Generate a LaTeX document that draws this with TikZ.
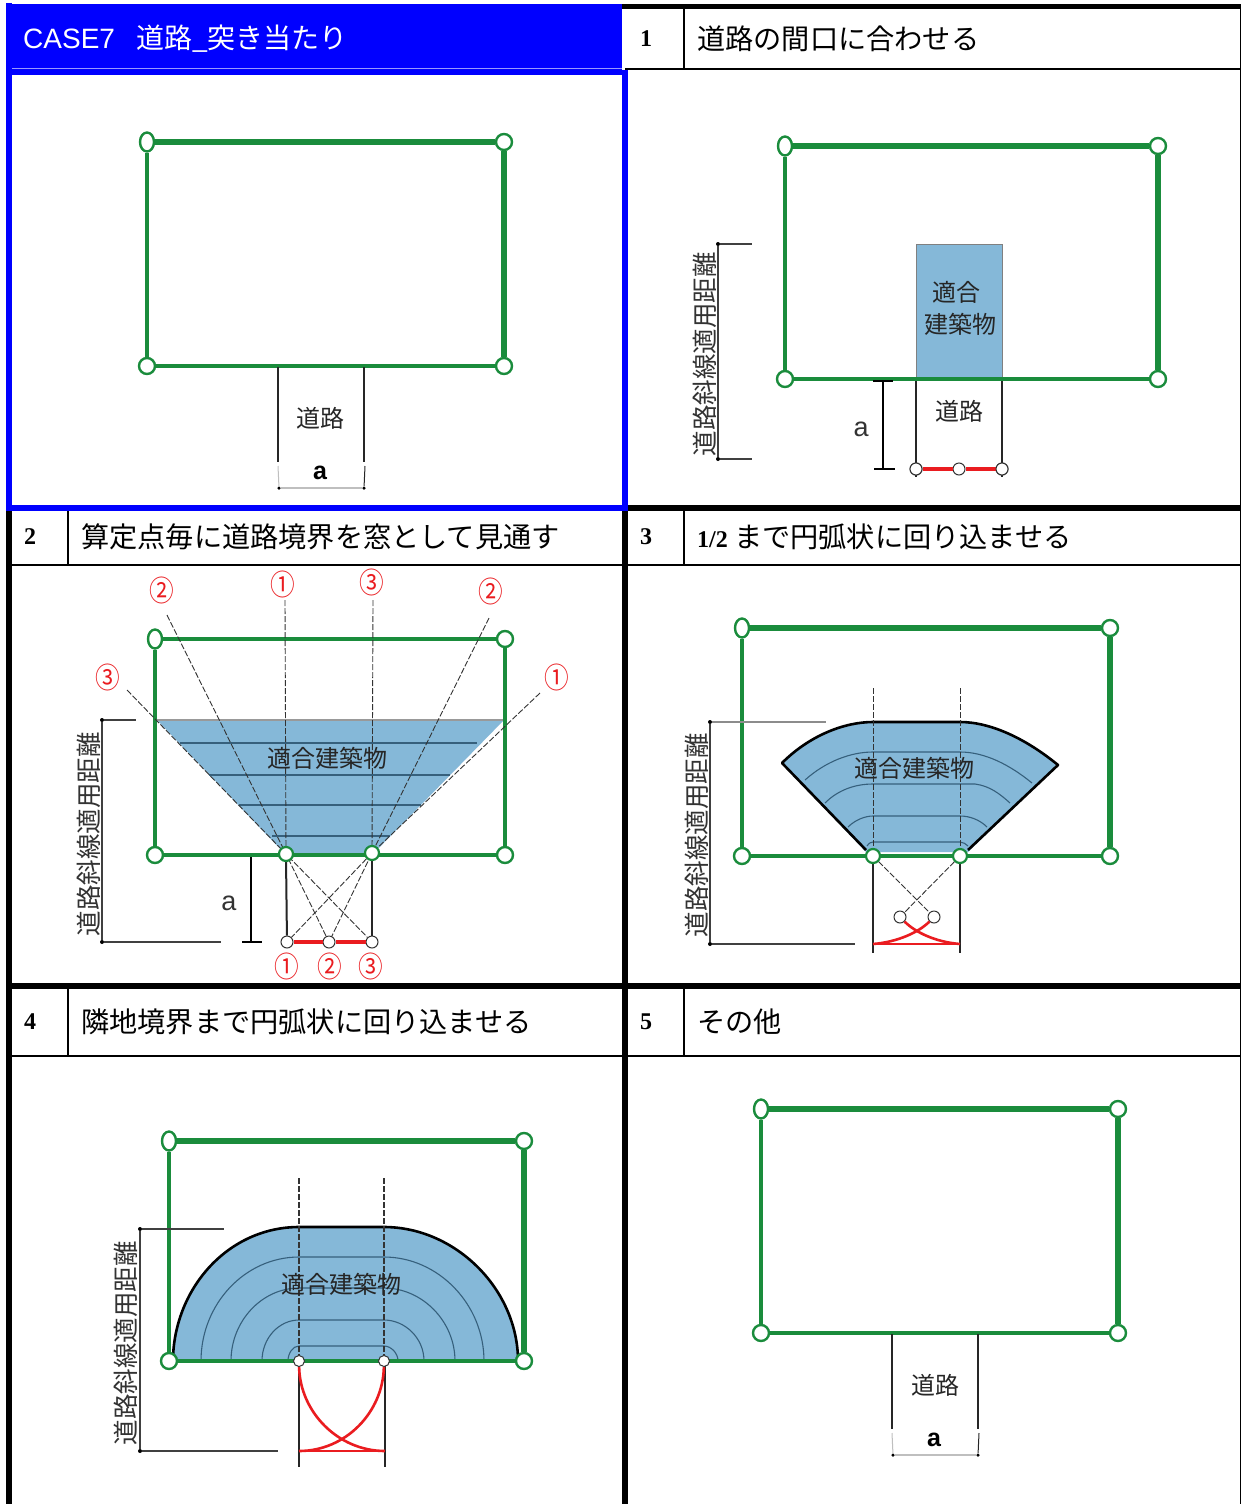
\documentclass[tikz,border=0pt]{standalone}
\usepackage{fontspec}
\setmainfont{Noto Sans CJK JP}
\newfontfamily\latinsans{Liberation Sans}
\newfontfamily\latinserif{Liberation Serif}
\usetikzlibrary{shapes.geometric}
\definecolor{sitegreen}{HTML}{1A8C3C}
\definecolor{bldgblue}{HTML}{85B8D8}
\definecolor{ringcol}{HTML}{36607C}
\definecolor{redline}{HTML}{EA1C20}
\definecolor{headblue}{HTML}{0000FF}
\tikzset{
  corner/.style={circle,draw=sitegreen,fill=white,line width=2.4pt,inner sep=0pt,minimum size=16pt},
  cornerslim/.style={ellipse,draw=sitegreen,fill=white,line width=2.4pt,inner sep=0pt,minimum width=14pt,minimum height=19pt},
  sitept/.style={circle,draw=sitegreen,fill=white,line width=2.2pt,inner sep=0pt,minimum size=14pt},
  smallpt/.style={circle,draw=black!80,fill=white,line width=1pt,inner sep=0pt,minimum size=12pt},
  road/.style={draw=black!85,line width=1.6pt},
  sight/.style={draw=black!80,line width=.9pt,dash pattern=on 6pt off 2pt},
  ring/.style={draw=ringcol,line width=1.1pt},
  bldg/.style={fill=bldgblue},
  bldgedge/.style={draw=black,line width=2.6pt,line join=round},
  dimline/.style={draw=black!75,line width=1.1pt},
  dimdot/.style={circle,fill=black,inner sep=0pt,minimum size=4pt},
  redstroke/.style={draw=redline,line width=2.6pt},
  label/.style={inner sep=0pt,font=\fontsize{24}{26}\selectfont,text=black!85},
  vlabel/.style={inner sep=0pt,rotate=90,font=\fontsize{25.5}{27}\selectfont,text=black!80},
  head/.style={inner sep=0pt,anchor=west,font=\fontsize{28.2}{30}\selectfont},
  num/.style={inner sep=0pt,anchor=west,font=\fontsize{24}{26}\latinserif\bfseries},
  redmark/.style={inner sep=0pt,text=redline,xscale=.85,font=\fontsize{29}{30}\selectfont},
  grid/.style={draw=black,line width=2pt},
  gridb/.style={draw=black,line width=5.4pt},
  sletter/.style={inner sep=0pt,font=\fontsize{27}{28}\latinsans,text=black!80}
}
% site frame: name, x1, y1, x2, y2, width of top line
\newcommand{\siteframe}[6]{%
  \node[cornerslim] (#1tl) at (#2,#3) {};
  \node[corner] (#1tr) at (#4,#3) {};
  \node[corner] (#1bl) at (#2,#5) {};
  \node[corner] (#1br) at (#4,#5) {};
  \draw[sitegreen,line width=#6pt] (#1tl) -- (#1tr);
  \draw[sitegreen,line width=.8*#6pt] (#1tl) -- (#1bl);
  \draw[sitegreen,line width=#6pt] (#1tr) -- (#1br);
  \draw[sitegreen,line width=.9*#6pt] (#1bl) -- (#1br);
}
\begin{document}
\begin{tikzpicture}[x=1pt,y=-1pt]
\useasboundingbox (0,0) rectangle (1241,1504);
\fill[white] (0,0) rectangle (1241,1504);

% ---------- table ----------
\fill[headblue] (11,4) rectangle (622,75);
\draw[white!60!headblue,line width=.8pt] (11,68.5) -- (622,68.5);
\draw[black] (622,6.8) -- (622,6.8);
\draw[gridb] (622,6.8) -- (1241,6.8);
\draw[grid] (625,68.8) -- (1241,68.8);
\draw[grid] (684,9) -- (684,68);
\draw[gridb] (622,508) -- (1241,508);
\draw[grid] (11,565) -- (1241,565);
\draw[grid] (68,510) -- (68,565);
\draw[grid] (684,510) -- (684,565);
\draw[gridb] (6,985.8) -- (1241,985.8);
\draw[grid] (11,1056) -- (1241,1056);
\draw[grid] (68,988) -- (68,1056);
\draw[grid] (684,988) -- (684,1056);
\draw[gridb] (9,505) -- (9,1504);
\draw[gridb] (625,505) -- (625,1504);
\draw[black,line width=1.4pt] (1240.3,6) -- (1240.3,1504);
\draw[headblue,line width=5.4pt] (9,3) -- (9,510.7);
\draw[headblue,line width=5.4pt] (625,70) -- (625,505);
\draw[headblue,line width=5.4pt] (6.3,508) -- (627.7,508);

% ---------- headings ----------
\node[head,text=white,font=\fontsize{28}{30}\selectfont] (h0) at (23,39) {{\latinsans CASE7}\hspace{21pt}道路\_突き当たり};
\node[num] (n1) at (640,39) {1）};
\node[head] (h1) at (697,39) {道路の間口に合わせる};
\node[num] (n2) at (24,537) {2）};
\node[head] (h2) at (81,537) {算定点毎に道路境界を窓として見通す};
\node[num] (n3) at (640,537) {3）};
\node[head] (h3) at (697,537) {{\fontsize{24}{26}\latinserif\bfseries 1/2} まで円弧状に回り込ませる};
\node[num] (n4) at (24,1022) {4）};
\node[head] (h4) at (81,1022) {隣地境界まで円弧状に回り込ませる};
\node[num] (n5) at (640,1022) {5）};
\node[head] (h5) at (697,1022) {その他};

% ---------- panel 0 ----------
\siteframe{a}{147}{142}{504}{366}{5.5}
\coordinate (a1) at (278,367); \coordinate (a2) at (278,462);
\coordinate (a3) at (364,367); \coordinate (a4) at (364,462);
\draw[road,line width=1.2pt] (a1) -- (a2);
\draw[road,line width=1.2pt] (a3) -- (a4);
\node[label] (a5) at (320,418) {道路};
\node[inner sep=0pt,font=\fontsize{25}{26}\latinsans\bfseries] (a6) at (320,473) {a};
\node[dimdot,minimum size=3.5pt] (a7) at (279,488) {};
\node[dimdot,minimum size=3.5pt] (a8) at (364,488) {};
\coordinate (a9) at (278,466); \coordinate (a10) at (365,466);
\draw[black!25,line width=1.2pt] (a7) -- (a8);
\draw[black!25,line width=1pt] (a7) -- (a9);
\draw[black!85,line width=1pt] (a8) -- (a10);

% ---------- panel 1 ----------
\draw[bldg,draw=black!50,line width=1pt] (916,244) rectangle (1002,379);
\siteframe{b}{785}{146}{1158}{379}{5.5}
\coordinate (b1) at (916,381); \coordinate (b2) at (1002,381);
\node[smallpt] (b3) at (916,469) {};
\node[smallpt] (b4) at (959,469) {};
\node[smallpt] (b5) at (1002,469) {};
\coordinate (b3a) at (916,477); \coordinate (b5a) at (1002,477);
\draw[road] (b1) -- (b3a);
\draw[road] (b2) -- (b5a);
\draw[redstroke,line width=4.6pt] (b3) -- (b4);
\draw[redstroke,line width=4.6pt] (b4) -- (b5);
\node[smallpt] at (916,469) {};\node[smallpt] at (1002,469) {};
\node[label] (b6) at (956,292) {適合};
\node[label] (b7) at (960,324) {建築物};
\node[label] (b8) at (959,411) {道路};
\node[sletter] (b9) at (861,429) {a};
\coordinate (b10) at (883,381); \coordinate (b11) at (883,469);
\draw[black,line width=2pt] (b10) -- (b11);
\draw[black,line width=2pt] (873,381) -- (893,381);
\draw[black,line width=2pt] (874,469) -- (895,469);
\node[dimdot] (b12) at (718,244) {};
\node[dimdot] (b13) at (718,459) {};
\coordinate (b14) at (752,244); \coordinate (b15) at (752,459);
\draw[dimline] (b12) -- (b13);
\draw[dimline] (b12) -- (b14);
\draw[dimline] (b13) -- (b15);
\node[vlabel] (b16) at (705,354) {道路斜線適用距離};

% ---------- panel 2 ----------
\fill[bldg] (157,720) -- (504,720) -- (372,855) -- (286,855) -- cycle;
\draw[black!40,line width=1.2pt] (157,720) -- (504,720);
\draw[ring] (180,743) -- (477,743);
\draw[ring] (209,775) -- (450,775);
\draw[ring] (239,805) -- (421,805);
\draw[ring] (272,836) -- (390,836);
\siteframe{c}{155}{639}{505}{855}{4.8}
\coordinate (c1) at (127,690); \coordinate (c2) at (540,693);
\coordinate (c3) at (167,615); \coordinate (c4) at (489,618);
\coordinate (c5) at (285,600); \coordinate (c6) at (373,600);
\node[smallpt] (cp1) at (287,942) {};
\node[smallpt] (cp2) at (329,942) {};
\node[smallpt] (cp3) at (372,942) {};
\draw[sight] (c1) -- (286,854) -- (cp3);
\draw[sight] (c2) -- (372,853) -- (cp1);
\draw[sight] (c3) -- (286,854) -- (cp2);
\draw[sight] (c4) -- (372,853) -- (cp2);
\draw[sight] (c5) -- (286,854);
\draw[sight] (c6) -- (372,853);
\coordinate (c7) at (286,858); \coordinate (c8) at (372,858);
\draw[road,line width=2pt] (c7) -- (cp1);
\draw[road] (c8) -- (cp3);
\draw[redstroke,line width=4.4pt] (cp1) -- (cp2);
\draw[redstroke,line width=4.4pt] (cp2) -- (cp3);
\node[sitept] (cA) at (286,854) {};
\node[sitept] (cB) at (372,853) {};
\node[label] (c9) at (327,758) {適合建築物};
\node[sletter] (c10) at (229,903) {a};
\coordinate (c11) at (251,857); \coordinate (c12) at (251,942);
\draw[black,line width=1.8pt] (c11) -- (c12);
\draw[black,line width=2.2pt] (242,942) -- (262,942);
\node[dimdot] (c13) at (102,720) {};
\node[dimdot] (c14) at (102,942) {};
\coordinate (c15) at (136,720); \coordinate (c16) at (221,942);
\draw[dimline] (c13) -- (c14);
\draw[dimline] (c13) -- (c15);
\draw[dimline] (c14) -- (c16);
\node[vlabel] (c17) at (89,834) {道路斜線適用距離};
\node[redmark] (m1) at (162,590) {②};
\node[redmark] (m2) at (283,584) {①};
\node[redmark] (m3) at (372,582) {③};
\node[redmark] (m4) at (491,591) {②};
\node[redmark] (m5) at (108,677) {③};
\node[redmark] (m6) at (557,677) {①};
\node[redmark] (m7) at (287,966) {①};
\node[redmark] (m8) at (330,966) {②};
\node[redmark] (m9) at (371,966) {③};

% ---------- panel 3 ----------
\path[bldg] (782,763) .. controls (810,735) and (845,722) .. (873,722) -- (960,722)
  .. controls (990,722) and (1025,738) .. (1058,765) -- (968,852) -- (866,852) -- cycle;
\draw[bldgedge] (866,850) -- (782,763) .. controls (810,735) and (845,722) .. (873,722) -- (960,722)
  .. controls (990,722) and (1025,738) .. (1058,765) -- (968,850);
\draw[ring] (805,780) .. controls (825,762) and (850,752) .. (873,752) -- (960,752)
  .. controls (985,752) and (1010,765) .. (1032,783);
\draw[ring] (825,803) .. controls (838,790) and (855,784) .. (873,784) -- (975,784)
  .. controls (990,786) and (1000,794) .. (1010,803);
\draw[ring] (848,827) .. controls (855,820) and (865,816) .. (873,816) -- (960,816)
  .. controls (970,816) and (980,820) .. (987,827);
\draw[ring] (867,846) .. controls (869,843) and (871,842) .. (873,842) -- (960,842)
  .. controls (963,842) and (966,844) .. (968,846);
\siteframe{d}{742}{628}{1110}{856}{5.4}
\coordinate (d1) at (873,688); \coordinate (d2) at (960,688);
\draw[sight] (d1) -- (873,856);
\draw[sight] (d2) -- (960,856);
\node[smallpt,draw=black!80] (dc1) at (900,917) {};
\node[smallpt,draw=black!80] (dc2) at (934,917) {};
\draw[sight] (873,856) -- (dc2);
\draw[sight] (960,856) -- (dc1);
\coordinate (d3) at (873,953); \coordinate (d4) at (960,953);
\draw[road] (873,858) -- (d3);
\draw[road] (960,858) -- (d4);
\coordinate (d5) at (873,944); \coordinate (d6) at (960,944);
\draw[redstroke] (d5) -- (d6);
\draw[redstroke] (dc1) .. controls (915,932) and (935,942) .. (d6);
\draw[redstroke] (dc2) .. controls (919,932) and (898,942) .. (d5);
\node[sitept] (dA) at (873,856) {};
\node[sitept] (dB) at (960,856) {};
\node[label] (d7) at (914,768) {適合建築物};
\node[dimdot] (d8) at (710,722) {};
\node[dimdot] (d9) at (710,944) {};
\coordinate (d10) at (826,722); \coordinate (d11) at (855,944);
\draw[dimline] (d8) -- (d9);
\draw[black!45,line width=1.1pt] (d8) -- (d10);
\draw[dimline] (d9) -- (d11);
\node[vlabel] (d12) at (697,835) {道路斜線適用距離};

% ---------- panel 4 ----------
\path[bldg] (173,1361) .. controls (173,1287) and (229,1227) .. (299,1227) -- (384,1227)
  .. controls (454,1227) and (518,1287) .. (518,1361) -- cycle;
\draw[bldgedge] (173,1358) .. controls (175,1287) and (229,1227) .. (299,1227) -- (384,1227)
  .. controls (454,1227) and (516,1287) .. (518,1358);
\draw[ring] (201,1361) .. controls (201,1304) and (245,1257) .. (299,1257) -- (384,1257)
  .. controls (438,1257) and (484,1304) .. (484,1361);
\draw[ring] (231,1361) .. controls (231,1321) and (262,1288) .. (299,1288) -- (384,1288)
  .. controls (422,1288) and (455,1321) .. (455,1361);
\draw[ring] (262,1361) .. controls (262,1338) and (279,1320) .. (299,1320) -- (384,1320)
  .. controls (405,1320) and (424,1338) .. (424,1361);
\draw[ring] (288,1361) .. controls (288,1353) and (293,1346) .. (299,1346) -- (384,1346)
  .. controls (391,1346) and (398,1353) .. (398,1361);
\siteframe{e}{169}{1141}{524}{1361}{5.4}
\coordinate (e1) at (299,1178); \coordinate (e2) at (384,1178);
\draw[sight,line width=1.3pt] (e1) -- (299,1361);
\draw[sight,line width=1.3pt] (e2) -- (384,1361);
\coordinate (e3) at (299,1467); \coordinate (e4) at (385,1467);
\draw[road] (299,1363) -- (e3);
\draw[road] (385,1363) -- (e4);
\coordinate (e5) at (299,1451); \coordinate (e6) at (385,1451);
\node[smallpt,minimum size=11pt] (eA) at (299,1361) {};
\node[smallpt,minimum size=11pt] (eB) at (384,1361) {};
\draw[redstroke] (e5) -- (e6);
\draw[redstroke] (eA) .. controls (300,1412) and (338,1451) .. (e6);
\draw[redstroke] (eB) .. controls (383,1412) and (346,1451) .. (e5);
\node[label] (e7) at (341,1284) {適合建築物};
\node[dimdot] (e8) at (140,1229) {};
\node[dimdot] (e9) at (140,1451) {};
\coordinate (e10) at (224,1229); \coordinate (e11) at (278,1451);
\draw[dimline] (e8) -- (e9);
\draw[dimline] (e8) -- (e10);
\draw[dimline] (e9) -- (e11);
\node[vlabel] (e12) at (126,1343) {道路斜線適用距離};

% ---------- panel 5 ----------
\siteframe{f}{761}{1109}{1118}{1333}{5.5}
\coordinate (f1) at (892,1334); \coordinate (f2) at (892,1429);
\coordinate (f3) at (978,1334); \coordinate (f4) at (978,1429);
\draw[road,line width=1.2pt] (f1) -- (f2);
\draw[road,line width=1.2pt] (f3) -- (f4);
\node[label] (f5) at (935,1385) {道路};
\node[inner sep=0pt,font=\fontsize{25}{26}\latinsans\bfseries] (f6) at (934,1440) {a};
\node[dimdot,minimum size=3.5pt] (f7) at (893,1455) {};
\node[dimdot,minimum size=3.5pt] (f8) at (978,1455) {};
\coordinate (f9) at (892,1433); \coordinate (f10) at (979,1433);
\draw[black!25,line width=1.2pt] (f7) -- (f8);
\draw[black!25,line width=1pt] (f7) -- (f9);
\draw[black!85,line width=1pt] (f8) -- (f10);
\end{tikzpicture}
\end{document}
